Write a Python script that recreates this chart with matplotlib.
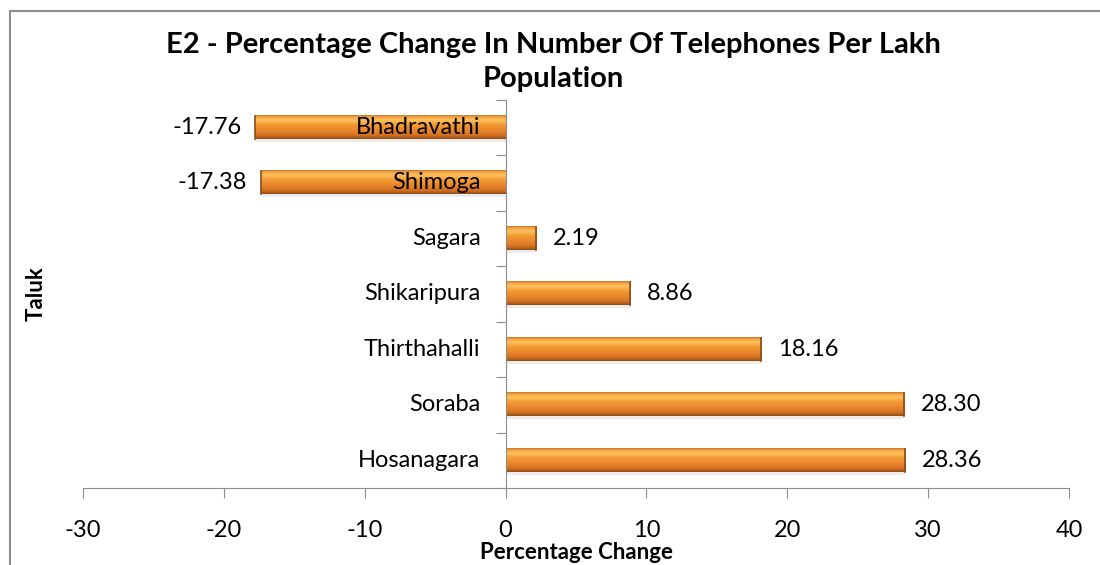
import numpy as np
import matplotlib.pyplot as plt
from matplotlib.colors import LinearSegmentedColormap
from matplotlib.patches import Rectangle

taluks = ["Hosanagara", "Soraba", "Thirthahalli", "Shikaripura", "Sagara", "Shimoga", "Bhadravathi"]
change = [28.36, 28.30, 18.16, 8.86, 2.19, -17.38, -17.76]

plt.rcParams['font.family'] = ['Lato', 'DejaVu Sans']
axis_grey = "#8c8c8c"

fig = plt.figure(figsize=(11, 5.65), dpi=100)
ax = fig.add_axes([83 / 1100, 77 / 565, 986 / 1100, 388.5 / 565])

# orange gradient, top -> bottom
grad = LinearSegmentedColormap.from_list("bar", [
    (0.0, "#c8742a"), (0.08, "#f7a844"), (0.22, "#fdc25c"),
    (0.4, "#f39a34"), (0.7, "#e5812a"), (0.88, "#cd6c1f"), (1.0, "#8a4c16")])
g = np.linspace(0, 1, 64).reshape(-1, 1)

h = 0.42
for i, v in enumerate(change):
    lo, hi = min(0, v), max(0, v)
    # soft shadow
    ax.add_patch(Rectangle((lo, i - h / 2 - 0.05), hi - lo, h, color="#000000",
                           alpha=0.08, lw=0, zorder=1))
    ax.imshow(g, cmap=grad, aspect="auto", extent=(lo, hi, i - h / 2, i + h / 2),
              zorder=2, interpolation="bicubic")
    ax.plot([v, v], [i - h / 2, i + h / 2], color="#8a4c16", lw=1.2, zorder=3)
    if v >= 0:
        ax.annotate(f"{v:.2f}", (v, i), xytext=(12, 0), textcoords="offset points",
                    ha="left", va="center", fontsize=17)
    else:
        ax.annotate(f"{v:.2f}", (v, i), xytext=(-10, 0), textcoords="offset points",
                    ha="right", va="center", fontsize=17)
    ax.annotate(taluks[i], (0, i), xytext=(-18, 0), textcoords="offset points",
                ha="right", va="center", fontsize=17, zorder=4)

ax.set_xlim(-30, 40)
ax.set_ylim(-0.5, len(taluks) - 0.5)
ax.set_xticks(range(-30, 41, 10))
ax.set_xticklabels([str(t) for t in range(-30, 41, 10)], fontsize=17)
ax.set_yticks(np.arange(-0.5, len(taluks), 1))
ax.set_yticklabels([])

for s in ["top", "right"]:
    ax.spines[s].set_visible(False)
ax.spines["left"].set_position(("data", 0))
ax.spines["left"].set_color(axis_grey)
ax.spines["bottom"].set_color(axis_grey)
ax.tick_params(axis="x", colors=axis_grey, labelcolor="black", length=7, pad=16)
ax.tick_params(axis="y", colors=axis_grey, length=7)

ax.set_xlabel("Percentage Change", fontsize=16, fontweight="bold")
ax.xaxis.set_label_coords(0.5, -0.14)
ax.set_ylabel("Taluk", fontsize=16, fontweight="bold")
ax.yaxis.set_label_coords(-0.037, 0.5)

fig.text(0.503, 1 - 32 / 565, "E2 - Percentage Change In Number Of Telephones Per Lakh\nPopulation",
         ha="center", va="top", fontsize=21, fontweight="bold", linespacing=1.4)

# chart border
fig.patches.append(Rectangle((10 / 1100, -0.1), 1.2, 1.1 - 11 / 565, transform=fig.transFigure,
                             fill=False, edgecolor=axis_grey, lw=1.5))

fig.savefig("out.png", dpi=100)
